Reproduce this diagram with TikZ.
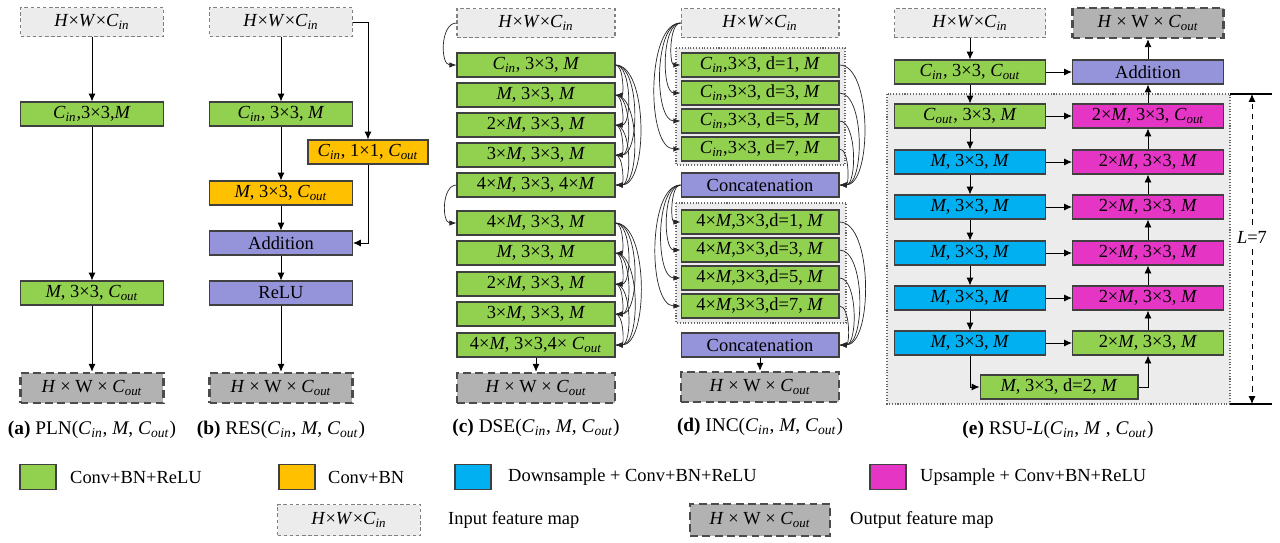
\documentclass[tikz,border=0pt]{standalone}
\usepackage{fontspec}
\setmainfont{Liberation Serif}
\usetikzlibrary{arrows.meta}

\definecolor{convgreen}{HTML}{92D050}
\definecolor{bnorange}{HTML}{FFC000}
\definecolor{downblue}{HTML}{00B0F0}
\definecolor{upmagenta}{HTML}{E535C4}
\definecolor{oppurple}{HTML}{9593D9}

\newcommand{\Cin}{\textit{C}\textsubscript{\textit{in}}}
\newcommand{\Cout}{\textit{C}\textsubscript{\textit{out}}}
\newcommand{\Mit}{\textit{M}}
\newcommand{\Hin}{\textit{H}×\textit{W}×\Cin}
\newcommand{\Hout}{\textit{H} × W × \Cout}

\tikzset{
  blk/.style={draw=black!75, line width=0.6pt, minimum height=0.48cm, inner sep=0pt,
    font=\fontsize{10.5}{12}\selectfont},
  conv/.style={blk, fill=convgreen},
  bnorm/.style={blk, fill=bnorange},
  down/.style={blk, fill=downblue},
  upsm/.style={blk, fill=upmagenta},
  oper/.style={blk, fill=oppurple},
  infeat/.style={draw=gray, dash pattern=on 2pt off 1.5pt, line width=0.6pt, fill=gray!15,
    minimum height=0.58cm, inner sep=0pt, font=\fontsize{10.5}{12}\selectfont},
  outfeat/.style={draw=black!70, dash pattern=on 4.5pt off 2.5pt, line width=1.4pt, fill=gray!60,
    minimum height=0.6cm, inner sep=0pt, font=\fontsize{10.5}{12}\selectfont},
  wa/.style={minimum width=2.86cm},
  wc/.style={minimum width=3.16cm},
  we/.style={minimum width=3.02cm},
  flow/.style={-{Latex[length=4.5pt,width=4pt]}, line width=0.5pt},
  dense/.style={-{Latex[length=4pt,width=3pt]}, line width=0.4pt, black!85},
  grp/.style={draw=black!60, densely dotted, line width=0.6pt, fill=gray!15},
  capt/.style={font=\fontsize{11}{13}\selectfont},
  lgtext/.style={anchor=west, font=\fontsize{10.5}{12}\selectfont},
  dimline/.style={dashed, line width=0.5pt, -{Latex[length=4.5pt,width=4pt]}}
}

\begin{document}
\begin{tikzpicture}[x=0.02cm, y=-0.02cm]
\fill[white] (0,0) rectangle (1280,542);
\useasboundingbox (0,0) rectangle (1280,542);

% (a) PLN
\node[infeat, wa] (ain) at (92,22) {\Hin};
\node[conv, wa] (a1) at (92,114) {\Cin,3×3,\Mit};
\node[conv, wa] (a2) at (92,293) {\Mit, 3×3, \Cout};
\node[outfeat, wa] (aout) at (92,388) {\Hout};
\draw[flow] (ain) -- (a1);
\draw[flow] (a1) -- (a2);
\draw[flow] (a2) -- (aout);
\node[capt] (acap) at (92,430) {\textbf{(a)} PLN(\Cin, \Mit, \Cout)};

% (b) RES
\node[infeat, wa] (bin) at (281,22) {\Hin};
\node[conv, wa] (b1) at (281,114) {\Cin, 3×3, \Mit};
\node[bnorm, minimum width=2.4cm] (bskip) at (368,152) {\Cin, 1×1, \Cout};
\node[bnorm, wa] (b2) at (281,193) {\Mit, 3×3, \Cout};
\node[oper, wa] (badd) at (281,243) {Addition};
\node[oper, wa] (brelu) at (281,293) {ReLU};
\node[outfeat, wa] (bout) at (281,388) {\Hout};
\draw[flow] (bin) -- (b1);
\draw[flow] (b1) -- (b2);
\draw[flow] (b2) -- (badd);
\draw[flow] (badd) -- (brelu);
\draw[flow] (brelu) -- (bout);
\draw[flow] (bin.east) -| (bskip.north);
\draw[flow] (bskip.south) |- (badd.east);
\node[capt] (bcap) at (281,430) {\textbf{(b)} RES(\Cin, \Mit, \Cout)};

% (c) DSE
\node[infeat, wc] (cin) at (536,23) {\Hin};
\node[conv, wc] (c1) at (536,65) {\Cin, 3×3, \Mit};
\node[conv, wc] (c2) at (536,95) {\Mit, 3×3, \Mit};
\node[conv, wc] (c3) at (536,125) {2×\Mit, 3×3, \Mit};
\node[conv, wc] (c4) at (536,155) {3×\Mit, 3×3, \Mit};
\node[conv, wc] (c5) at (536,185) {4×\Mit, 3×3, 4×\Mit};
\node[conv, wc] (c6) at (536,223) {4×\Mit, 3×3, \Mit};
\node[conv, wc] (c7) at (536,253) {\Mit, 3×3, \Mit};
\node[conv, wc] (c8) at (536,284) {2×\Mit, 3×3, \Mit};
\node[conv, wc] (c9) at (536,314) {3×\Mit, 3×3, \Mit};
\node[conv, wc] (c10) at (536,345) {4×\Mit, 3×3,4× \Cout};
\node[outfeat, wc] (cout) at (536,388) {\Hout};
\draw[dense] (cin.west) to[out=180, in=180] (c1.west);
\draw[dense] (c5.west) to[out=180, in=180] (c6.west);
\foreach \i [evaluate=\i as \k using int(\i+1)] in {1,...,4}
  \foreach \j in {\k,...,5}
    \draw[dense] (c\i.east) to[out=0, in=0, looseness=0.7] (c\j.east);
\foreach \i [evaluate=\i as \k using int(\i+1)] in {6,...,9}
  \foreach \j in {\k,...,10}
    \draw[dense] (c\i.east) to[out=0, in=0, looseness=0.7] (c\j.east);
\draw[flow] (c10) -- (cout);
\node[capt] (ccap) at (536,428) {\textbf{(c)} DSE(\Cin, \Mit, \Cout)};

% (d) INC
\draw[grp] (676,48) rectangle (845,165);
\draw[grp] (676,203) rectangle (846,323);
\node[infeat, wc] (din) at (760,23) {\Hin};
\node[conv, wc] (inc1) at (760,65) {\Cin,3×3, d=1, \Mit};
\node[conv, wc] (inc2) at (760,93) {\Cin,3×3, d=3, \Mit};
\node[conv, wc] (inc3) at (760,121) {\Cin,3×3, d=5, \Mit};
\node[conv, wc] (inc4) at (760,149) {\Cin,3×3, d=7, \Mit};
\node[oper, wc] (incat1) at (760,185) {Concatenation};
\node[conv, wc] (inc5) at (760,222) {4×\Mit,3×3,d=1, \Mit};
\node[conv, wc] (inc6) at (760,250) {4×\Mit,3×3,d=3, \Mit};
\node[conv, wc] (inc7) at (760,278) {4×\Mit,3×3,d=5, \Mit};
\node[conv, wc] (inc8) at (760,306) {4×\Mit,3×3,d=7, \Mit};
\node[oper, wc] (incat2) at (760,345) {Concatenation};
\node[outfeat, wc] (dout) at (760,387) {\Hout};
\foreach \k in {1,...,4} {
  \draw[dense] (din.west) to[out=180, in=180, looseness=0.7] (inc\k.west);
  \draw[dense] (inc\k.east) to[out=0, in=0, looseness=0.7] (incat1.east);
}
\foreach \k in {5,...,8} {
  \draw[dense] (incat1.west) to[out=180, in=180, looseness=0.7] (inc\k.west);
  \draw[dense] (inc\k.east) to[out=0, in=0, looseness=0.7] (incat2.east);
}
\draw[flow] (incat2) -- (dout);
\node[capt] (dcap) at (760,427) {\textbf{(d)} INC(\Cin, \Mit, \Cout)};

% (e) RSU-L
\draw[grp] (887,94) rectangle (1230,404);
\node[infeat, we] (rin) at (970,23) {\Hin};
\node[outfeat, we] (rout) at (1148,23) {\Hout};
\node[conv, we] (r0) at (970,72) {\Cin, 3×3, \Cout};
\node[oper, we] (radd) at (1148,72) {Addition};
\node[conv, we] (l1) at (970,116) {\Cout, 3×3, \Mit};
\node[down, we] (l2) at (970,162) {\Mit, 3×3, \Mit};
\node[down, we] (l3) at (970,207) {\Mit, 3×3, \Mit};
\node[down, we] (l4) at (970,253) {\Mit, 3×3, \Mit};
\node[down, we] (l5) at (970,298) {\Mit, 3×3, \Mit};
\node[down, we] (l6) at (970,343) {\Mit, 3×3, \Mit};
\node[upsm, we] (u1) at (1148,116) {2×\Mit, 3×3, \Cout};
\node[upsm, we] (u2) at (1148,162) {2×\Mit, 3×3, \Mit};
\node[upsm, we] (u3) at (1148,207) {2×\Mit, 3×3, \Mit};
\node[upsm, we] (u4) at (1148,253) {2×\Mit, 3×3, \Mit};
\node[upsm, we] (u5) at (1148,298) {2×\Mit, 3×3, \Mit};
\node[conv, we] (u6) at (1148,343) {2×\Mit, 3×3, \Mit};
\node[conv, wc] (rbot) at (1059,387) {\Mit, 3×3, d=2, \Mit};
\draw[flow] (rin) -- (r0);
\draw[flow] (r0) -- (radd);
\draw[flow] (r0) -- (l1);
\foreach \i [evaluate=\i as \k using int(\i+1)] in {1,...,5} {
  \draw[flow] (l\i) -- (l\k);
  \draw[flow] (u\k) -- (u\i);
}
\foreach \i in {1,...,6}
  \draw[flow] (l\i) -- (u\i);
\draw[flow] (l6.south) |- (rbot.west);
\draw[flow] (rbot.east) -| (u6.south);
\draw[flow] (u1) -- (radd);
\draw[flow] (radd) -- (rout);
% L=7 marker
\coordinate (ltop) at (1272,94);
\coordinate (lbot) at (1272,404);
\draw[line width=1.3pt] (1230,94) -- (ltop);
\draw[line width=1.3pt] (1230,404) -- (lbot);
\node[font=\fontsize{10.5}{12}\selectfont] (lval) at (1252,237) {\textit{L}=7};
\draw[dimline] (lval.north) -- (lval.north |- ltop);
\draw[dimline] (lval.south) -- (lval.south |- lbot);
\node[capt] (ecap) at (1058,430) {\textbf{(e)} RSU-\textit{L}(\Cin, \Mit\ , \Cout)};

% legend
\node[conv, minimum width=0.72cm, minimum height=0.5cm] (lgconv) at (38,477) {};
\node[lgtext] (lgconvt) at (64,477) {Conv+BN+ReLU};
\node[bnorm, minimum width=0.72cm, minimum height=0.5cm] (lgbn) at (297,477) {};
\node[lgtext] (lgbnt) at (322,477) {Conv+BN};
\node[down, minimum width=0.72cm, minimum height=0.5cm] (lgdown) at (473,477) {};
\node[lgtext] (lgdownt) at (502,477) {Downsample + Conv+BN+ReLU};
\node[upsm, minimum width=0.72cm, minimum height=0.5cm] (lgup) at (888,477) {};
\node[lgtext] (lgupt) at (914,477) {Upsample + Conv+BN+ReLU};
\node[infeat, wa, minimum height=0.62cm] (lgin) at (349,520) {\Hin};
\node[lgtext] (lgint) at (442,520) {Input feature map};
\node[outfeat, minimum width=2.8cm, minimum height=0.64cm] (lgout) at (760,520) {\Hout};
\node[lgtext] (lgoutt) at (844,520) {Output feature map};
\end{tikzpicture}
\end{document}
